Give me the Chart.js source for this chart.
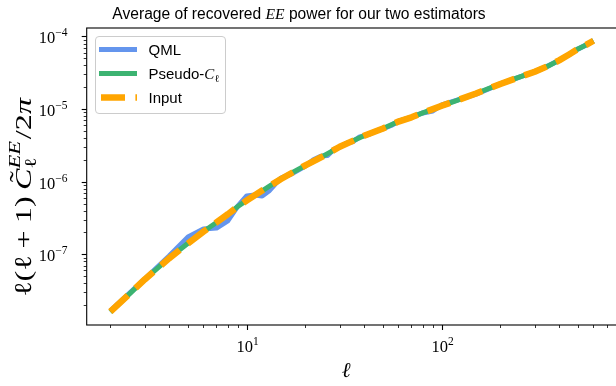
<!DOCTYPE html>
<html><head><meta charset="utf-8">
<script src="https://cdn.jsdelivr.net/npm/chart.js@4/dist/chart.umd.min.js"></script>
<style>html,body{margin:0;padding:0;background:#fff;overflow:hidden;width:616px;height:386px}#wrap{width:624px;height:386px}</style>
</head><body><div id="wrap"><canvas id="c" width="624" height="386"></canvas></div>
<script>
// ---- data (ell, l(l+1)C_l/2pi) ----
const ellInput = [2,3,4,5,6,7,8,9,10,12,15,20,25,30,40,50,60,70,80,100,120,150,200,250,300,350,400,450,500,550,600];
const powerInput = [1.62e-8,4.50e-8,8.79e-8,1.41e-7,2.05e-7,2.76e-7,3.56e-7,4.53e-7,5.50e-7,7.54e-7,1.09e-6,1.68e-6,2.29e-6,3.03e-6,4.29e-6,5.41e-6,6.73e-6,7.71e-6,8.87e-6,1.11e-5,1.32e-5,1.64e-5,2.22e-5,2.75e-5,3.27e-5,3.91e-5,4.69e-5,5.65e-5,6.73e-5,7.66e-5,8.73e-5];
const ellPseudo = [2,3,4,5,6,7,8,9,10,12,15,20,25,30,40,50,60,70,80,100,120,150,200,250,300,350,400,450,500,550,600];
const powerPseudo = [1.60e-8,4.52e-8,8.85e-8,1.42e-7,2.06e-7,2.74e-7,3.55e-7,4.55e-7,5.52e-7,7.50e-7,1.10e-6,1.67e-6,2.30e-6,3.02e-6,4.30e-6,5.40e-6,6.75e-6,7.70e-6,8.85e-6,1.11e-5,1.32e-5,1.64e-5,2.22e-5,2.75e-5,3.28e-5,3.90e-5,4.70e-5,5.64e-5,6.74e-5,7.66e-5,8.72e-5];
const ellQML = [2,3,4,5,6,7,8,9,10,11,12,13,14,15,17,20,22,24,26,28,30,33,35,38,42,46,50,55,60,70,80,90,100,120,150,200,250,300,350,400,450,500,550,600];
const powerQML = [1.66e-8,4.57e-8,9.48e-8,1.73e-7,2.23e-7,2.30e-7,2.88e-7,4.60e-7,6.35e-7,6.56e-7,6.35e-7,7.45e-7,9.30e-7,1.12e-6,1.28e-6,1.64e-6,2.00e-6,2.25e-6,2.30e-6,2.80e-6,3.00e-6,3.45e-6,3.55e-6,4.15e-6,4.45e-6,5.00e-6,5.35e-6,5.95e-6,6.80e-6,7.78e-6,8.84e-6,9.42e-6,1.14e-5,1.33e-5,1.61e-5,2.22e-5,2.75e-5,3.27e-5,3.91e-5,4.69e-5,5.65e-5,6.73e-5,7.66e-5,8.73e-5];
const seriesNames = ['QML','Pseudo-C\u2113','Input'];
const xMajorTicks = [10,100];
const xTickExponents = ['1','2'];
const yMajorTicks = [1e-7,1e-6,1e-5,1e-4];
const yTickExponents = ['\u22127','\u22126','\u22125','\u22124'];
const titleParts = ['Average of recovered ','EE',' power for our two estimators'];

const COLORS = {QML:'#6495ED', Pseudo:'#3CB371', Input:'#FFA500'};
const SERIF = '"Liberation Serif","DejaVu Serif",serif';
const SANS = '"Liberation Sans","DejaVu Sans",sans-serif';
const pts = (xs, ys) => xs.map((x,i)=>({x:x, y:ys[i]}));

function measureRuns(ctx, parts){
  let w=0;
  for(const p of parts){ if(p.gap!==undefined){p.w=p.gap;} else {ctx.font=p.f; p.w=ctx.measureText(p.t).width;} if(!p.noadv) w+=p.w; }
  return w;
}
function drawRuns(ctx, parts, x0, y0, align){
  const w = measureRuns(ctx, parts);
  let x = align==='center' ? x0-w/2 : (align==='right' ? x0-w : x0);
  for(const p of parts){
    if(p.gap===undefined){ ctx.font=p.f; ctx.fillText(p.t, x, y0+(p.dy||0));
      if(p.tilde){ ctx.font=p.tilde; const tw=ctx.measureText('\u02DC').width; ctx.fillText('\u02DC', x+p.w/2-tw/2+p.tdx, y0+p.tdy); } }
    if(!p.noadv) x+=p.w;
  }
  return w;
}
function yLabelParts(S){
  return [
    {t:'\u2113(\u2113',f:`${S}px ${SERIF}`},{gap:S*0.22},{t:'+',f:`${S}px ${SERIF}`},{gap:S*0.22},{t:'1)',f:`${S}px ${SERIF}`},{gap:S*0.2},
    {t:'C',f:`italic ${S}px ${SERIF}`,tilde:`${S}px ${SERIF}`,tdx:S*0.08,tdy:-S*0.2},
    {t:'\u2113',f:`${S*0.7}px ${SERIF}`,dy:S*0.22,noadv:true},
    {t:'EE',f:`italic ${S*0.7}px ${SERIF}`,dy:-S*0.45},{gap:S*0.06},
    {t:'/2',f:`${S}px ${SERIF}`},{t:'\u03C0',f:`italic ${S}px ${SERIF}`}
  ];
}

const deco = {
  id:'deco',
  afterDraw(chart){
    const ctx=chart.ctx, a=chart.chartArea, xs=chart.scales.x, ys=chart.scales.y;
    ctx.save();
    ctx.fillStyle='#000'; ctx.strokeStyle='#000'; ctx.textBaseline='alphabetic'; ctx.textAlign='left';
    // frame
    ctx.lineWidth=1.1;
    ctx.strokeRect(a.left, a.top, a.right-a.left, a.bottom-a.top);
    // x ticks
    for(let d=0; d<=2; d++){ for(let m=2;m<=9;m++){ const v=m*Math.pow(10,d); if(v<xs.min||v>xs.max) continue;
      const px=Math.round(xs.getPixelForValue(v))+0.5; ctx.lineWidth=0.8; ctx.beginPath(); ctx.moveTo(px,a.bottom); ctx.lineTo(px,a.bottom+3); ctx.stroke(); } }
    xMajorTicks.forEach((v,i)=>{ const px=Math.round(xs.getPixelForValue(v))+0.5; ctx.lineWidth=1.1; ctx.beginPath(); ctx.moveTo(px,a.bottom); ctx.lineTo(px,a.bottom+5); ctx.stroke();
      drawRuns(ctx,[{t:'10',f:`16.5px ${SERIF}`},{t:xTickExponents[i],f:`11.5px ${SERIF}`,dy:-7}], px, 351.5, 'center'); });
    // y ticks
    for(let d=-8; d<=-4; d++){ for(let m=2;m<=9;m++){ const v=m*Math.pow(10,d); if(v<ys.min||v>ys.max) continue;
      const py=Math.round(ys.getPixelForValue(v))+0.5; ctx.lineWidth=0.8; ctx.beginPath(); ctx.moveTo(a.left,py); ctx.lineTo(a.left-3,py); ctx.stroke(); } }
    yMajorTicks.forEach((v,i)=>{ const py=Math.round(ys.getPixelForValue(v))+0.5; ctx.lineWidth=1.1; ctx.beginPath(); ctx.moveTo(a.left,py); ctx.lineTo(a.left-5,py); ctx.stroke();
      drawRuns(ctx,[{t:'10',f:`16.5px ${SERIF}`},{t:yTickExponents[i],f:`11.5px ${SERIF}`,dy:-7}], 67.5, py+6.5, 'right'); });
    // x label
    drawRuns(ctx,[{t:'\u2113',f:`italic 21px ${SERIF}`}], 346, 377, 'center');
    // y label: 24px, stretched along its direction to the reference span (wider TeX metrics)
    const S = 24;
    const wl = measureRuns(ctx, yLabelParts(S));
    ctx.save(); ctx.translate(31, 197.5); ctx.rotate(-Math.PI/2); ctx.scale(199/wl, 1);
    drawRuns(ctx, yLabelParts(S), 0, 0, 'center');
    ctx.restore();
    // title
    drawRuns(ctx,[{t:titleParts[0],f:`15.6px ${SANS}`},{t:titleParts[1],f:`italic 15.6px ${SERIF}`},{t:titleParts[2],f:`15.6px ${SANS}`}], 299, 18.5, 'center');
    // legend
    const lx=95.5, ly=36.5, lw=130, lh=77, r=3.5;
    ctx.beginPath();
    ctx.moveTo(lx+r,ly); ctx.lineTo(lx+lw-r,ly); ctx.arcTo(lx+lw,ly,lx+lw,ly+r,r); ctx.lineTo(lx+lw,ly+lh-r); ctx.arcTo(lx+lw,ly+lh,lx+lw-r,ly+lh,r);
    ctx.lineTo(lx+r,ly+lh); ctx.arcTo(lx,ly+lh,lx,ly+lh-r,r); ctx.lineTo(lx,ly+r); ctx.arcTo(lx,ly,lx+r,ly,r); ctx.closePath();
    ctx.fillStyle='rgba(255,255,255,0.8)'; ctx.fill(); ctx.strokeStyle='#cccccc'; ctx.lineWidth=1; ctx.stroke();
    const rows=[{y:49.5,c:COLORS.QML,w:5,dash:[]},{y:73.5,c:COLORS.Pseudo,w:5,dash:[]},{y:97.5,c:COLORS.Input,w:6.5,dash:[24,10.4]}];
    rows.forEach((row,i)=>{ ctx.save(); ctx.strokeStyle=row.c; ctx.lineWidth=row.w; ctx.setLineDash(row.dash); ctx.lineCap='butt';
      ctx.beginPath(); ctx.moveTo(i===2?101:99,row.y); ctx.lineTo(137,row.y); ctx.stroke(); ctx.restore(); });
    ctx.fillStyle='#000';
    drawRuns(ctx,[{t:seriesNames[0],f:`15px ${SANS}`}],148.5,55,'left');
    drawRuns(ctx,[{t:'Pseudo-',f:`15px ${SANS}`},{t:'C',f:`italic 15px ${SERIF}`},{t:'\u2113',f:`10.5px ${SERIF}`,dy:3}],148.5,79,'left');
    drawRuns(ctx,[{t:seriesNames[2],f:`15px ${SANS}`}],148.5,103,'left');
    ctx.restore();
  }
};

new Chart(document.getElementById('c'), {
  type:'line',
  data:{datasets:[
    {label:seriesNames[0], data:pts(ellQML,powerQML), borderColor:COLORS.QML, borderWidth:5, pointRadius:0, borderJoinStyle:'round', order:3},
    {label:seriesNames[1], data:pts(ellPseudo,powerPseudo), borderColor:COLORS.Pseudo, borderWidth:5, pointRadius:0, borderJoinStyle:'round', order:2},
    {label:seriesNames[2], data:pts(ellInput,powerInput), borderColor:COLORS.Input, borderWidth:6.5, borderDash:[24,10.4], pointRadius:0, borderJoinStyle:'round', order:1}
  ]},
  options:{
    responsive:false, animation:false, devicePixelRatio:1,
    layout:{padding:{left:86.7, top:28, right:624-617.6, bottom:386-325}},
    scales:{
      x:{type:'logarithmic', min:1.512, max:798, display:false},
      y:{type:'logarithmic', min:1.062e-8, max:1.309e-4, display:false}
    },
    plugins:{legend:{display:false}, tooltip:{enabled:false}, title:{display:false}}
  },
  plugins:[deco]
});
</script></body></html>
